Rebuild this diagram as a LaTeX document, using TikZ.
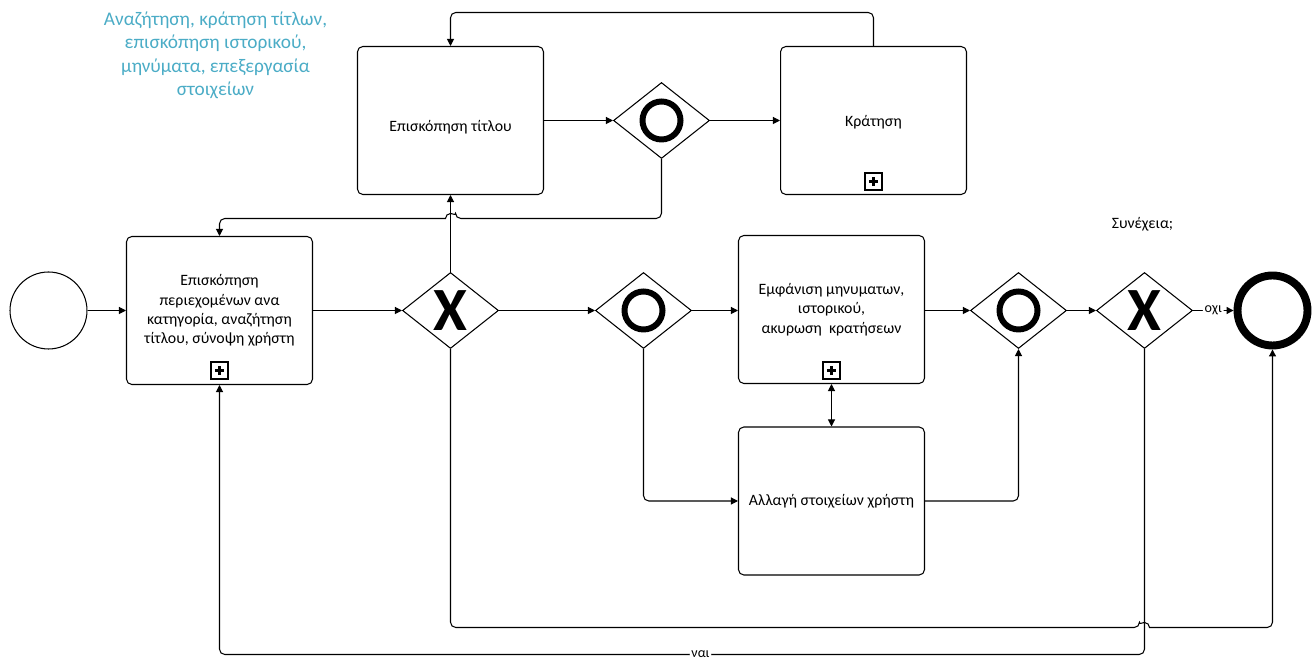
\documentclass[tikz,border=0pt]{standalone}
\usepackage{fontspec}
\setmainfont{Carlito}
\usetikzlibrary{arrows.meta,positioning,shapes.geometric,calc}
\definecolor{notecol}{HTML}{4BACC6}

\tikzset{
  task/.style={draw, rounded corners=3pt, minimum width=3.72cm, minimum height=2.96cm,
    align=center, font=\fontsize{9}{11}\selectfont, line width=0.6pt},
  gate/.style={draw, diamond, minimum width=1.92cm, minimum height=1.52cm,
    inner sep=0pt, line width=0.6pt},
  flow/.style={-{Triangle[length=4pt,width=4pt]}, line width=0.6pt, rounded corners=3pt},
  xmark/.style={font=\fontsize{35}{35}\selectfont\bfseries, inner sep=0pt},
  omark/.style={circle, draw, line width=3.4pt, minimum size=0.76cm, inner sep=0pt},
  submark/.style={draw, minimum size=0.34cm, inner sep=0pt, line width=0.6pt,
    path picture={
      \draw[line width=1.3pt] ([xshift=-2.6pt]path picture bounding box.center)
        -- ([xshift=2.6pt]path picture bounding box.center);
      \draw[line width=1.3pt] ([yshift=-2.6pt]path picture bounding box.center)
        -- ([yshift=2.6pt]path picture bounding box.center);}},
  lbl/.style={font=\fontsize{8}{10}\selectfont, fill=white, inner sep=1pt}
}

\begin{document}
\begin{tikzpicture}[x=0.02cm, y=-0.02cm]
  \useasboundingbox (0,0) rectangle (1312,661);
  \begin{scope}[shift={(0.5,0.5)}]

  % Note
  \node[align=center, text=notecol, font=\fontsize{11}{13.4}\selectfont] (note) at (215,55)
    {Αναζήτηση, κράτηση τίτλων,\\ επισκόπηση ιστορικού,\\ μηνύματα, επεξεργασία\\ στοιχείων};

  % Events
  \node[circle, draw, line width=0.6pt, minimum size=1.54cm, inner sep=0pt] (start) at (48,310) {};
  \node[circle, draw, line width=4.5pt, minimum size=1.4cm, inner sep=0pt] (end) at (1272,310) {};

  % Tasks
  \node[task] (browse) at (219,310) {Επισκόπηση\\ περιεχομένων ανα\\ κατηγορία, αναζήτηση\\ τίτλου, σύνοψη χρήστη};
  \node[task] (view) at (450,120) {\raisebox{-6.3pt}[0pt][0pt]{Επισκόπηση τίτλου}};
  \node[task] (book) at (873,120) {\raisebox{-3.5pt}[0pt][0pt]{Κράτηση}};
  \node[task] (msgs) at (831,309) {Εμφάνιση μηνυματων,\\ ιστορικού,\\ ακυρωση\ \ κρατήσεων};
  \node[task] (edit) at (831,500.5) {Αλλαγή στοιχείων χρήστη};

  % Sub-process markers
  \node[submark] (pbrowse) at (219,370) {};
  \node[submark] (pbook) at (873,181) {};
  \node[submark] (pmsgs) at (831,370) {};

  % Gateways
  \node[gate] (xa) at (450,310) {};
  \node[xmark] at (xa.center) {X};
  \node[gate] (ob) at (661,120) {};
  \node[omark] at (ob.center) {};
  \node[gate] (oa) at (643,310) {};
  \node[omark] at (oa.center) {};
  \node[gate] (oc) at (1018,310) {};
  \node[omark] at (oc.center) {};
  \node[gate] (xb) at (1144,310) {};
  \node[xmark] at (xb.center) {X};

  \node[font=\fontsize{9}{11}\selectfont] (ask) at (1142,224) {Συνέχεια;};

  % Flows
  \draw[flow] (start) -- (browse);
  \draw[flow] (browse) -- (xa);
  \draw[flow] (xa.north) -- (view.south);
  \draw[flow] (view) -- (ob);
  \draw[flow] (ob) -- (book);
  \draw[flow] (book.north) -- (873,12) -- (450,12) -- (view.north);
  \draw[flow] (ob.south) -- (661,218) -- (455,218) [sharp corners]
    arc[start angle=0, end angle=180, radius=0.1cm] [rounded corners=3pt]
    -- (219,218) -- (browse.north);
  \draw[flow] (xa) -- (oa);
  \draw[flow] (oa) -- (msgs.west |- oa);
  \draw[flow] (oa.south) |- (edit.west);
  \draw[{Triangle[length=4pt,width=4pt]}-{Triangle[length=4pt,width=4pt]}, line width=0.6pt]
    (msgs.south) -- (edit.north);
  \draw[flow] (msgs.east |- oc) -- (oc);
  \draw[flow] (edit.east) -| (oc.south);
  \draw[flow] (oc) -- (xb);
  \draw[flow] (xb) -- node[lbl] {οχι} (end);
  \draw[flow] (xb.south) -- (1144,654) -- node[lbl, pos=0.48] {ναι} (219,654) -- (browse.south);
  \draw[flow] (xa.south) -- (450,627) -- (1139,627) [sharp corners]
    arc[start angle=180, end angle=0, radius=0.1cm] [rounded corners=3pt]
    -- (1272,627) -- (end.south);
  \end{scope}
\end{tikzpicture}
\end{document}
